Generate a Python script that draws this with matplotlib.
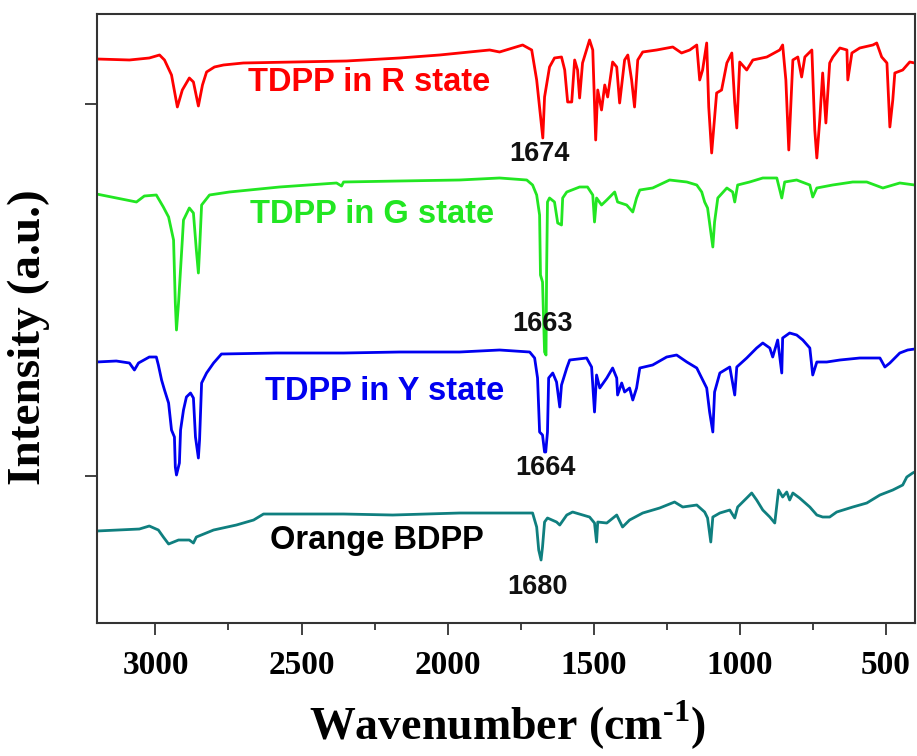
import numpy as np
import matplotlib.pyplot as plt

plt.rcParams['mathtext.fontset'] = 'custom'
plt.rcParams['mathtext.rm'] = 'Liberation Serif:bold'
plt.rcParams['mathtext.bf'] = 'Liberation Serif:bold'

# FTIR spectra, values (intensity in arbitrary units, stacked)
r_wn = [3202, 3089, 3021, 2986, 2969, 2945, 2925, 2908, 2884, 2870, 2853, 2839, 2825, 2798,
        2767, 2699, 2346, 2164, 2027, 1925, 1856, 1822, 1743, 1712, 1695, 1674, 1668, 1651,
        1634, 1610, 1599, 1589, 1575, 1565, 1555, 1548, 1538, 1514, 1503, 1493, 1486, 1473,
        1462, 1452, 1435, 1421, 1411, 1394, 1383, 1370, 1360, 1349, 1332, 1284, 1229, 1199,
        1171, 1147, 1137, 1127, 1113, 1106, 1096, 1079, 1062, 1044, 1027, 1017, 1010, 1000,
        976, 955, 907, 863, 853, 842, 832, 818, 801, 788, 777, 753, 743, 736, 726, 716, 705,
        692, 681, 657, 633, 630, 616, 589, 544, 531, 514, 496, 486, 476, 469, 442, 418, 401]
r_int = [5.64, 5.63, 5.65, 5.68, 5.63, 5.48, 5.16, 5.33, 5.45, 5.41, 5.17, 5.38, 5.51, 5.56,
         5.58, 5.60, 5.62, 5.65, 5.68, 5.71, 5.73, 5.71, 5.78, 5.73, 5.43, 4.85, 5.26, 5.56,
         5.65, 5.66, 5.53, 5.21, 5.21, 5.63, 5.53, 5.25, 5.60, 5.83, 5.73, 4.83, 5.33, 5.13,
         5.38, 5.26, 5.61, 5.56, 5.20, 5.63, 5.68, 5.43, 5.16, 5.63, 5.71, 5.73, 5.76, 5.70,
         5.73, 5.78, 5.43, 5.53, 5.80, 5.16, 4.70, 5.30, 5.33, 5.60, 5.70, 5.20, 4.95, 5.61,
         5.53, 5.63, 5.66, 5.73, 5.78, 5.43, 4.73, 5.63, 5.66, 5.46, 5.66, 5.73, 4.93, 4.65,
         5.03, 5.50, 5.00, 5.60, 5.66, 5.75, 5.73, 5.43, 5.70, 5.75, 5.78, 5.80, 5.66, 5.60,
         4.96, 5.23, 5.50, 5.53, 5.61, 5.60]

g_wn = [3202, 3065, 3038, 2997, 2973, 2955, 2938, 2932, 2928, 2921, 2908, 2904, 2884, 2870,
        2860, 2853, 2849, 2842, 2815, 2747, 2575, 2380, 2363, 2356, 2164, 1959, 1822, 1729,
        1709, 1695, 1685, 1682, 1675, 1668, 1663, 1661, 1658, 1651, 1634, 1623, 1610, 1606,
        1592, 1548, 1521, 1503, 1497, 1490, 1473, 1455, 1428, 1418, 1387, 1366, 1353, 1342,
        1298, 1240, 1181, 1147, 1130, 1120, 1110, 1099, 1092, 1086, 1075, 1044, 1024, 1017,
        1007, 966, 921, 873, 856, 846, 805, 760, 750, 736, 682, 613, 565, 510, 452, 401]
g_int = [4.29, 4.21, 4.27, 4.28, 4.16, 4.06, 3.83, 3.20, 2.93, 3.20, 3.83, 4.03, 4.15, 4.10,
         3.73, 3.50, 3.73, 4.18, 4.28, 4.31, 4.36, 4.40, 4.37, 4.41, 4.42, 4.43, 4.45, 4.43,
         4.38, 4.28, 4.08, 3.48, 3.41, 2.71, 2.68, 3.51, 4.21, 4.25, 4.21, 4.00, 3.98, 4.25,
         4.31, 4.36, 4.36, 4.28, 4.01, 4.25, 4.18, 4.23, 4.31, 4.21, 4.18, 4.11, 4.25, 4.33,
         4.35, 4.43, 4.41, 4.38, 4.31, 4.21, 4.15, 3.91, 3.76, 4.01, 4.25, 4.35, 4.31, 4.21,
         4.38, 4.41, 4.45, 4.45, 4.25, 4.41, 4.43, 4.38, 4.26, 4.35, 4.38, 4.41, 4.41, 4.35,
         4.40, 4.38]

y_wn = [3202, 3134, 3089, 3072, 3058, 3021, 2997, 2990, 2979, 2969, 2955, 2945, 2935, 2932,
        2928, 2918, 2914, 2904, 2894, 2880, 2870, 2863, 2853, 2849, 2842, 2825, 2801, 2774,
        2586, 2356, 2164, 1959, 1822, 1719, 1702, 1692, 1685, 1675, 1668, 1664, 1658, 1654,
        1640, 1627, 1616, 1610, 1592, 1582, 1524, 1507, 1497, 1490, 1479, 1455, 1435, 1421,
        1418, 1404, 1394, 1377, 1366, 1353, 1342, 1298, 1250, 1216, 1181, 1147, 1130, 1113,
        1103, 1092, 1086, 1068, 1034, 1017, 1010, 976, 942, 921, 897, 887, 870, 856, 853,
        829, 805, 784, 760, 750, 736, 702, 657, 589, 520, 503, 486, 452, 425, 401]
y_int = [2.61, 2.62, 2.60, 2.53, 2.60, 2.66, 2.66, 2.58, 2.43, 2.33, 2.20, 1.93, 1.86, 1.56,
         1.48, 1.60, 1.93, 2.13, 2.26, 2.30, 2.25, 1.86, 1.65, 1.83, 2.40, 2.50, 2.60, 2.69,
         2.70, 2.70, 2.71, 2.71, 2.73, 2.71, 2.65, 2.45, 1.91, 1.88, 1.71, 1.71, 1.91, 2.45,
         2.50, 2.41, 2.16, 2.38, 2.55, 2.63, 2.65, 2.56, 2.11, 2.48, 2.35, 2.45, 2.55, 2.45,
         2.28, 2.40, 2.31, 2.35, 2.23, 2.35, 2.55, 2.58, 2.66, 2.68, 2.61, 2.55, 2.45, 2.35,
         2.11, 1.91, 2.31, 2.50, 2.56, 2.28, 2.56, 2.65, 2.75, 2.80, 2.75, 2.66, 2.83, 2.50,
         2.85, 2.90, 2.88, 2.83, 2.75, 2.48, 2.61, 2.61, 2.63, 2.65, 2.65, 2.56, 2.60, 2.70,
         2.73, 2.74]

o_wn = [3202, 3055, 3021, 2990, 2973, 2955, 2921, 2884, 2870, 2860, 2801, 2723, 2664, 2630,
        2356, 2188, 1959, 1822, 1709, 1695, 1688, 1680, 1675, 1668, 1658, 1627, 1616, 1592,
        1572, 1514, 1497, 1490, 1486, 1455, 1421, 1401, 1377, 1332, 1274, 1223, 1195, 1147,
        1120, 1110, 1099, 1092, 1068, 1034, 1017, 1007, 976, 959, 942, 921, 897, 880, 867,
        853, 839, 829, 818, 795, 760, 736, 716, 692, 668, 613, 565, 520, 476, 442, 428, 408,
        401]
o_int = [0.92, 0.94, 0.97, 0.93, 0.86, 0.79, 0.83, 0.83, 0.80, 0.86, 0.93, 0.98, 1.03, 1.09,
         1.09, 1.08, 1.10, 1.10, 1.10, 0.96, 0.73, 0.63, 0.76, 1.01, 1.05, 1.01, 0.98, 1.08,
         1.11, 1.06, 1.00, 0.81, 1.01, 1.00, 1.08, 0.96, 1.03, 1.10, 1.15, 1.21, 1.16, 1.18,
         1.11, 1.05, 0.81, 1.06, 1.10, 1.13, 1.05, 1.16, 1.25, 1.30, 1.23, 1.13, 1.06, 1.00,
         1.33, 1.26, 1.31, 1.23, 1.30, 1.25, 1.16, 1.08, 1.06, 1.06, 1.11, 1.16, 1.20, 1.28,
         1.33, 1.38, 1.46, 1.50, 1.51]

names = ['TDPP in R state', 'TDPP in G state', 'TDPP in Y state', 'Orange BDPP']
colors = ['#ff0000', '#22e622', '#0000f0', '#0f7f7f']
label_colors = ['#ff0000', '#22e622', '#0000f0', 'black']
peak_labels = ['1674', '1663', '1664', '1680']

fig = plt.figure(figsize=(9.17, 7.56), dpi=100)
ax = fig.add_axes([0.1058, 0.1759, 0.892, 0.8056])

spectra = [(r_wn, r_int), (g_wn, g_int), (y_wn, y_int), (o_wn, o_int)]
for (wn, inten), c in zip(spectra, colors):
    ax.plot(wn, inten, color=c, lw=2.0)

# curve names and peak positions
name_pos = [(2267, 5.40), (2257, 4.08), (2216, 2.32), (2243, 0.83)]
peak_pos = [(1685, 4.69), (1675, 2.99), (1664, 1.55), (1692, 0.36)]
for name, c, (x, y) in zip(names, label_colors, name_pos):
    ax.text(x, y, name, color=c, fontsize=23.5, fontweight='bold',
            family='Liberation Sans', ha='center', va='center')
for lab, (x, y) in zip(peak_labels, peak_pos):
    ax.text(x, y, lab, color='#111111', fontsize=19.5, fontweight='bold',
            family='Liberation Sans', ha='center', va='center')

ax.set_xlim(3200, 400)
ax.set_ylim(0, 6.09)
ax.set_xticks([3000, 2500, 2000, 1500, 1000, 500])
ax.set_xticks([2750, 2250, 1750, 1250, 750], minor=True)
ax.set_yticks([1.47, 5.19])
ax.set_yticklabels([])
ax.tick_params(axis='both', which='major', direction='out', length=8.5, width=1.3,
               color='#333333')
ax.tick_params(axis='x', which='minor', direction='out', length=5, width=1.3,
               color='#333333')
ax.tick_params(axis='x', labelsize=24, pad=11)
for lbl in ax.get_xticklabels():
    lbl.set_family('Liberation Serif')
    lbl.set_fontweight('bold')
for sp in ax.spines.values():
    sp.set_linewidth(1.5)
    sp.set_color('#333333')

ax.set_xlabel('Wavenumber (cm$^{\\text{-1}}$)', family='Liberation Serif',
              fontweight='bold', fontsize=33)
ax.xaxis.set_label_coords(0.502, -0.125)
ax.set_ylabel('Intensity (a.u.)', family='Liberation Serif', fontweight='bold',
              fontsize=34)
ax.yaxis.set_label_coords(-0.058, 0.47)

fig.savefig('out.png', dpi=100)
